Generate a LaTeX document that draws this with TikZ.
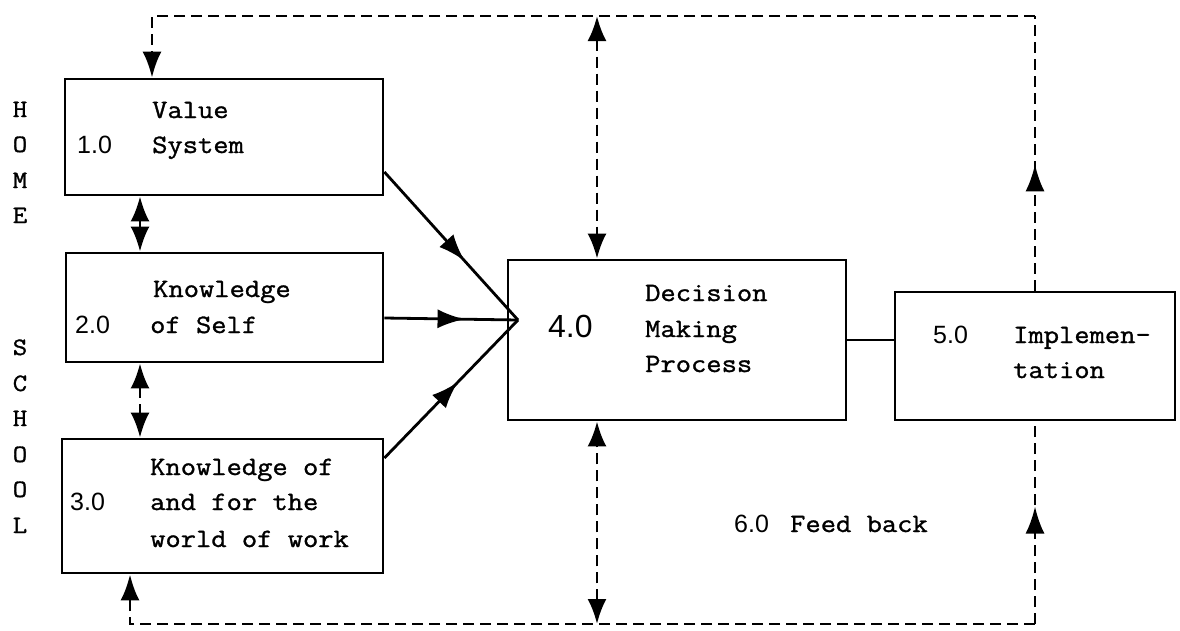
\documentclass[tikz,border=0pt]{standalone}
\usepackage{fontspec}
\newfontfamily\tw{Latin Modern Mono}[FakeStretch=1.12,FakeBold=1.2]
\newfontfamily\nf{Liberation Sans}
\usetikzlibrary{arrows.meta,decorations.markings}
\tikzset{
  box/.style={draw, line width=2.8pt, inner sep=0pt},
  txt/.style={anchor=base west, inner sep=0pt, font=\tw\fontsize{26.5}{35}\selectfont},
  num/.style={anchor=base west, inner sep=0pt, font=\nf\fontsize{25}{30}\selectfont},
  bignum/.style={anchor=base west, inner sep=0pt, font=\nf\fontsize{32}{36}\selectfont},
  side/.style={anchor=base, inner sep=0pt, font=\tw\fontsize{25}{30}\selectfont},
  fb/.style={line width=2.8pt, dash pattern=on 11pt off 6pt},
  sl/.style={line width=2.8pt},
  headend/.style={-{Latex[length=26pt,width=19pt]}},
  headboth/.style={{Latex[length=25pt,width=19pt]}-{Latex[length=25pt,width=19pt]}},
  midhead/.style={postaction={decorate}, decoration={markings,
      mark=at position #1 with {\arrow{Latex[length=27pt,width=19pt]}}}},
}
\begin{document}
\begin{tikzpicture}[x=1pt,y=-1pt]
\useasboundingbox (0,0) rectangle (1180,630);

% boxes
\node[box, minimum width=318pt, minimum height=116pt] (b1) at (224,137) {};
\node[box, minimum width=317pt, minimum height=109pt] (b2) at (224.5,307.5) {};
\node[box, minimum width=321pt, minimum height=134pt] (b3) at (222.5,506) {};
\node[box, minimum width=338pt, minimum height=160pt] (b4) at (677,340) {};
\node[box, minimum width=280pt, minimum height=128pt] (b5) at (1035,356) {};

% box texts
\node[txt] (t1a) at (152,118) {Value};
\node[num] (n1) at (77,153) {1.0};
\node[txt] (t1b) at (152,153) {System};

\node[txt] (t2a) at (153,297) {Knowledge};
\node[num] (n2) at (75,333) {2.0};
\node[txt] (t2b) at (150,333) {of Self};

\node[txt] (t3a) at (150,475) {Knowledge of};
\node[num] (n3) at (70,510) {3.0};
\node[txt] (t3b) at (150,510) {and for the};
\node[txt] (t3c) at (150,547) {world of work};

\node[txt] (t4a) at (645,301) {Decision};
\node[bignum] (n4) at (548,337) {4.0};
\node[txt] (t4b) at (645,337) {Making};
\node[txt] (t4c) at (645,372) {Process};

\node[num] (n5) at (933,343) {5.0};
\node[txt] (t5a) at (1013,343) {Implemen-};
\node[txt] (t5b) at (1013,378) {tation};

\node[num] (n6) at (734,532) {6.0};
\node[txt] (t6) at (790,532) {Feed back};

% side letters
\node[side] (h1) at (20,117) {H};
\node[side] (h2) at (20,152) {O};
\node[side] (h3) at (20,188) {M};
\node[side] (h4) at (20,223) {E};
\node[side] (s1) at (20,355) {S};
\node[side] (s2) at (20,391) {C};
\node[side] (s3) at (20,426) {H};
\node[side] (s4) at (20,462) {O};
\node[side] (s5) at (20,497) {O};
\node[side] (s6) at (20,533) {L};

% feedback loop corners
\coordinate (tl) at (152,16);
\coordinate (tm) at (597,16);
\coordinate (tr) at (1035,16);
\coordinate (bl) at (130,624);
\coordinate (bm) at (597,624);
\coordinate (br) at (1035,624);
\coordinate (cv) at (518,320);

% feedback (dashed)
\draw[fb, headend] (tr) -- (tl) -- (tl |- b1.north);
\draw[fb, headboth] (tm) -- (tm |- b4.north);
\draw[fb, midhead=0.46] (b5.north) -- (tr);
\draw[fb, headend] (br) -- (bl) -- (bl |- b3.south);
\draw[fb, headboth] (bm) -- (tm |- b4.south);
\draw[fb, midhead=0.58] (br) -- (b5.south);

% between left boxes
\draw[sl, headboth] (b1.south -| 140,0) -- (b2.north -| 140,0);
\draw[fb, headboth] (b2.south -| 140,0) -- (b3.north -| 140,0);

% inputs to decision making
\draw[sl, midhead=0.6] (b1.east |- 0,172) -- (cv);
\draw[sl, midhead=0.6] (b2.east |- 0,318) -- (cv);
\draw[sl, midhead=0.55] (b3.east |- 0,458) -- (cv);

% decision to implementation
\draw[sl] (b4.east) -- (b4.east -| b5.west);
\end{tikzpicture}
\end{document}
